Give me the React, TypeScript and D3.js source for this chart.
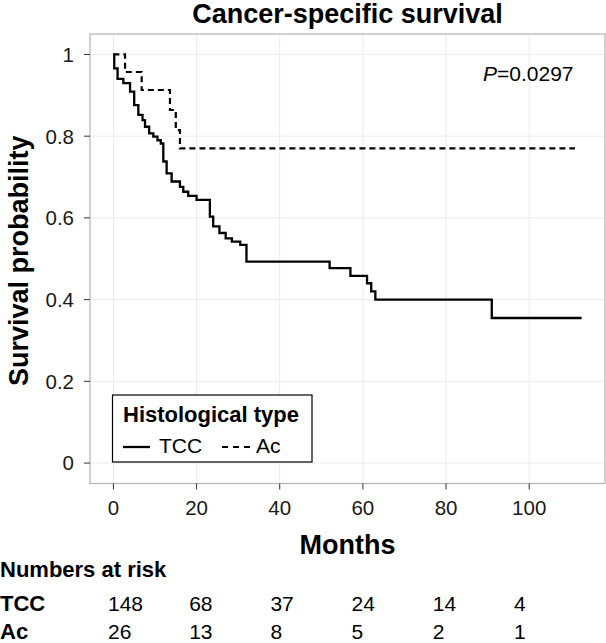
import React from "react";
import * as d3 from "d3";

// ---- data ----
const tccTimes = [0, 0.2, 1.0, 2.4, 4.0, 5.0, 6.0, 7.0, 7.6, 8.6, 9.6, 10.6, 11.4, 12.0, 12.8, 14.0, 16.0, 16.8, 18.0, 20.0, 23.2, 24.0, 25.5, 27.0, 28.5, 30.5, 32.0, 52.0, 57.0, 61.0, 62.0, 63.0, 91.0, 112.6];
const tccSurv = [1.0, 0.966, 0.94, 0.93, 0.909, 0.876, 0.852, 0.839, 0.823, 0.807, 0.799, 0.79, 0.782, 0.738, 0.709, 0.689, 0.676, 0.664, 0.654, 0.644, 0.603, 0.579, 0.563, 0.55, 0.542, 0.534, 0.493, 0.477, 0.458, 0.44, 0.42, 0.4, 0.355, 0.355];
const acTimes = [0, 2.8, 6.8, 13.6, 15.0, 16.0, 111.0];
const acSurv = [1.0, 0.957, 0.913, 0.864, 0.815, 0.77, 0.77];

const xTicks = [0, 20, 40, 60, 80, 100];
const yTicks = [0, 0.2, 0.4, 0.6, 0.8, 1];
const riskGroups = ["TCC", "Ac"];
const riskTCC = [148, 68, 37, 24, 14, 4];
const riskAc = [26, 13, 8, 5, 2, 1];

const W = 606, H = 643;
const panel = { left: 90, right: 605, top: 34, bottom: 483.5 };
const FONT = "'Liberation Sans', Arial, sans-serif";

export default function App() {
  const x = d3.scaleLinear().domain([-5.63, 118.23]).range([panel.left, panel.right]);
  const y = d3.scaleLinear().domain([-0.05, 1.05]).range([panel.bottom, panel.top]);
  const line = d3
    .line<[number, number]>()
    .x((d) => x(d[0]))
    .y((d) => y(d[1]))
    .curve(d3.curveStepAfter);
  const tccPts = tccTimes.map((t, i) => [t, tccSurv[i]] as [number, number]);
  const acPts = acTimes.map((t, i) => [t, acSurv[i]] as [number, number]);
  const xr = d3.scaleLinear().domain([0, 100]).range([108, 514]);
  const rowY = [611, 639];
  const riskRows = [riskTCC, riskAc];

  return (
    <svg
      width={W}
      height={H}
      style={{ position: "absolute", left: 0, top: 0, background: "#fff" }}
      fontFamily={FONT}
    >
      <rect x={0} y={0} width={W} height={H} fill="#fff" />
      {/* gridlines */}
      {xTicks.map((t) => (
        <line key={"gx" + t} x1={x(t)} x2={x(t)} y1={panel.top} y2={panel.bottom} stroke="#ebebeb" strokeWidth={1} />
      ))}
      {yTicks.map((t) => (
        <line key={"gy" + t} x1={panel.left} x2={panel.right} y1={y(t)} y2={y(t)} stroke="#ebebeb" strokeWidth={1} />
      ))}
      {/* panel border */}
      <rect
        x={panel.left}
        y={panel.top}
        width={panel.right - panel.left}
        height={panel.bottom - panel.top}
        fill="none"
        stroke="#b3b3b3"
        strokeWidth={1.2}
      />
      {/* ticks */}
      {xTicks.map((t) => (
        <g key={"tx" + t}>
          <line x1={x(t)} x2={x(t)} y1={panel.bottom} y2={panel.bottom + 6} stroke="#333" strokeWidth={1} />
          <text x={x(t)} y={515} textAnchor="middle" fontSize={20.5} fill="#1a1a1a">
            {t}
          </text>
        </g>
      ))}
      {yTicks.map((t) => (
        <g key={"ty" + t}>
          <line x1={panel.left - 6} x2={panel.left} y1={y(t)} y2={y(t)} stroke="#333" strokeWidth={1} />
          <text x={74} y={y(t)} dy="0.36em" textAnchor="end" fontSize={20.5} fill="#1a1a1a">
            {t}
          </text>
        </g>
      ))}
      {/* curves */}
      <path d={line(acPts) || ""} fill="none" stroke="#000" strokeWidth={2.2} strokeDasharray="6,4" />
      <path d={line(tccPts) || ""} fill="none" stroke="#000" strokeWidth={2.3} />

      {/* title */}
      <text x={(panel.left + panel.right) / 2} y={23} textAnchor="middle" fontSize={27} fontWeight="bold">
        Cancer-specific survival
      </text>
      {/* y label */}
      <text
        transform={`translate(28,${(panel.top + panel.bottom) / 2 + 2}) rotate(-90)`}
        textAnchor="middle"
        fontSize={27}
        fontWeight="bold"
      >
        Survival probability
      </text>
      {/* x label */}
      <text x={(panel.left + panel.right) / 2} y={554} textAnchor="middle" fontSize={27} fontWeight="bold">
        Months
      </text>
      {/* p value */}
      <text x={483} y={81} fontSize={21}>
        <tspan fontStyle="italic">P</tspan>=0.0297
      </text>

      {/* legend */}
      <rect x={112.5} y={395} width={199.5} height={67} fill="#fff" stroke="#000" strokeWidth={1.2} />
      <text x={123} y={422} fontSize={22} fontWeight="bold">
        Histological type
      </text>
      <line x1={123} x2={150} y1={447} y2={447} stroke="#000" strokeWidth={2.3} />
      <text x={159} y={453} fontSize={21}>
        {riskGroups[0]}
      </text>
      <line x1={222} x2={251} y1={447} y2={447} stroke="#000" strokeWidth={2.2} strokeDasharray="6,5" />
      <text x={256} y={453} fontSize={21}>
        {riskGroups[1]}
      </text>

      {/* risk table */}
      <text x={0} y={577} fontSize={22} fontWeight="bold">
        Numbers at risk
      </text>
      {riskGroups.map((g, gi) => (
        <g key={g}>
          <text x={0} y={rowY[gi]} fontSize={22} fontWeight="bold">
            {g}
          </text>
          {riskRows[gi].map((v, i) => (
            <text key={i} x={xr(xTicks[i])} y={rowY[gi]} fontSize={21}>
              {v}
            </text>
          ))}
        </g>
      ))}
    </svg>
  );
}
